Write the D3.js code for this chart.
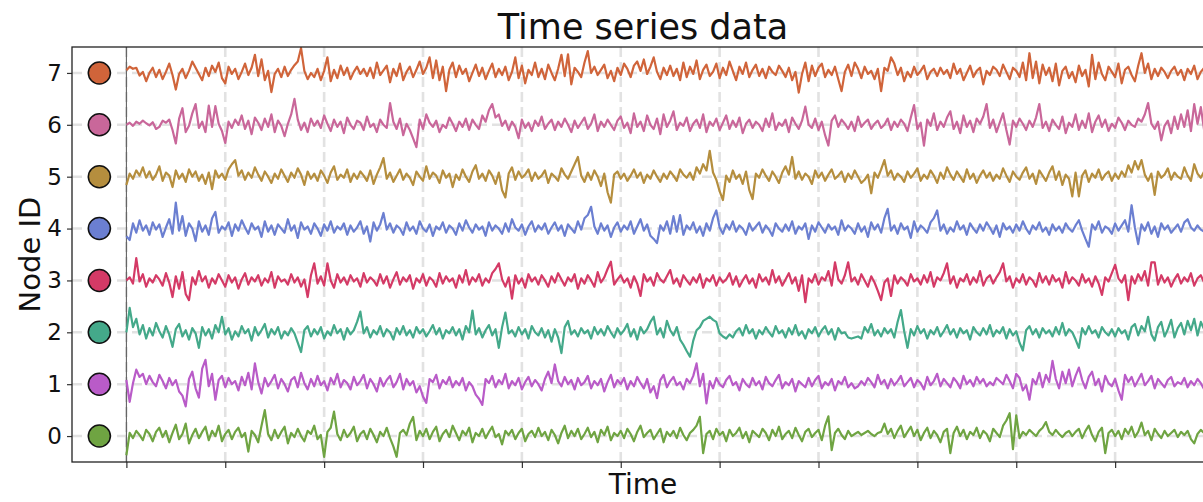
<!DOCTYPE html>
<html lang="en">
<head>
<meta charset="UTF-8">
<title>Time series data</title>
<script src="https://cdn.jsdelivr.net/npm/d3@7"></script>
<style>
    body {
        margin: 0;
        background: #ffffff;
        font-family: "DejaVu Sans", sans-serif;
    }
    svg { display: block; }
</style>
</head>
<body>
<div id="chart"></div>
<script>
// node ids shown on the y axis, bottom to top
const nodeIds = [0, 1, 2, 3, 4, 5, 6, 7];
const nodeColors = ["#6fa442", "#b95bc8", "#44a98a", "#d43a66", "#6b7fd1", "#b58e3e", "#c9679a", "#d0643a"];

// x ticks (no labels in the original)
const xTicks = [0, 30, 60, 90, 120, 150, 180, 210, 240, 270, 300, 330];

// signal for each node
const node0 = [-0.37,0.06,-0.04,0.10,0.02,-0.08,0.12,0.04,-0.10,0.08,
0.16,-0.02,0.10,-0.12,0.06,0.22,-0.06,0.04,0.24,-0.14,
0.02,0.14,-0.04,0.08,0.18,-0.08,0.10,0.00,0.20,-0.10,
0.04,0.12,-0.06,0.08,0.16,-0.02,0.06,-0.30,0.10,0.02,
-0.12,0.20,0.50,0.04,-0.08,0.12,-0.04,0.08,0.18,-0.14,
0.06,-0.02,0.14,0.00,-0.10,0.10,0.04,0.20,-0.06,0.02,
-0.40,0.08,0.16,0.47,0.04,-0.08,0.12,-0.02,0.06,0.18,
-0.10,0.04,0.10,-0.06,0.14,0.02,-0.12,0.08,0.00,0.16,
-0.04,-0.20,-0.40,0.06,0.12,0.02,0.24,0.37,-0.08,0.10,
0.00,0.14,-0.06,0.08,0.18,-0.10,0.04,0.12,-0.02,0.20,
0.06,-0.08,0.10,0.02,0.16,-0.12,0.06,0.00,0.14,-0.04,
0.08,0.18,-0.02,0.04,-0.16,0.10,0.02,0.12,-0.06,0.06,
0.14,-0.10,0.04,0.10,-0.02,0.16,0.00,0.08,-0.08,0.12,
0.02,-0.14,0.06,0.20,-0.04,0.10,0.00,0.14,-0.06,0.04,
0.16,-0.02,0.08,-0.12,0.12,0.02,0.18,-0.08,0.06,0.00,
0.10,-0.04,0.14,0.04,-0.10,0.08,0.20,-0.02,0.06,0.12,
-0.06,0.04,0.14,-0.12,0.08,0.00,0.10,-0.04,0.16,0.02,
-0.08,0.06,0.12,0.20,0.37,-0.33,0.04,0.10,-0.06,0.14,
0.02,0.08,-0.10,0.12,0.00,0.06,0.16,-0.04,0.08,-0.12,
0.10,0.04,-0.02,0.14,0.06,-0.08,0.12,0.00,0.18,-0.06,
0.04,0.10,-0.04,0.16,0.02,-0.10,0.08,0.14,-0.02,0.06,
0.12,-0.08,0.20,0.38,-0.27,0.06,0.14,0.02,-0.06,0.10,
0.00,0.04,0.08,0.02,0.06,0.10,0.04,0.00,0.06,0.08,
0.24,0.04,0.14,-0.04,0.10,0.20,-0.02,0.08,0.18,0.00,
0.12,-0.08,0.06,0.16,-0.04,0.10,0.02,-0.12,0.08,0.14,
-0.33,0.06,0.18,0.00,0.12,-0.06,0.08,0.02,0.16,-0.04,
0.10,0.04,-0.10,0.14,0.06,-0.02,0.20,0.30,0.44,-0.25,
0.40,-0.04,0.08,0.02,0.12,0.06,0.00,0.10,0.16,0.27,
0.08,0.02,0.12,0.04,-0.02,0.06,0.10,0.00,0.08,0.14,
-0.04,0.10,0.20,0.02,-0.10,0.08,0.16,-0.33,0.06,0.12,
0.00,0.10,-0.06,0.14,0.04,0.18,-0.02,0.08,0.26,0.02,
0.10,-0.08,0.14,0.04,-0.04,0.10,0.00,0.06,0.12,-0.02,
0.08,0.02,0.10,-0.06,-0.14,0.04,0.12,0.06,0.00,0.10,
0.04];

const node1 = [1.08,0.66,1.02,1.28,1.14,1.20,1.00,1.16,1.04,0.96,
1.18,1.06,0.92,1.12,0.98,1.08,0.86,0.78,0.57,1.10,
1.24,0.92,0.74,1.30,1.47,0.96,1.20,0.70,1.08,1.16,
0.94,1.12,1.00,1.06,0.88,1.14,0.98,1.22,0.90,1.40,
1.04,0.82,1.12,0.96,1.06,1.18,0.92,1.10,1.00,0.86,
1.08,1.14,0.94,1.22,1.02,0.90,1.10,0.96,1.16,0.98,
1.06,0.88,1.12,1.00,1.20,0.94,1.08,1.02,0.90,1.14,
0.98,1.06,1.18,0.92,1.10,1.00,0.86,1.12,0.96,1.08,
1.16,0.94,1.04,1.20,0.90,1.10,0.98,1.06,0.84,0.96,
0.76,0.64,1.10,1.04,1.18,0.92,1.08,1.00,1.14,0.94,
1.06,0.98,1.12,0.88,1.04,0.96,0.80,0.72,0.60,1.10,
1.02,1.16,0.94,1.08,1.00,1.20,0.92,1.06,0.98,1.12,
0.90,1.04,1.14,0.96,1.08,1.00,0.88,1.10,1.24,1.02,
1.38,1.06,0.96,1.14,1.00,1.08,0.90,1.12,0.98,1.04,
1.16,0.92,1.06,0.98,1.10,0.86,1.04,1.18,0.94,1.08,
1.00,1.12,0.90,1.06,0.96,1.14,1.02,0.92,1.10,0.84,
0.96,0.73,1.08,1.18,0.94,1.06,1.14,0.98,1.04,0.90,
1.10,1.02,1.16,1.40,0.96,1.20,0.63,1.06,0.92,1.12,
1.00,0.94,1.08,1.16,0.98,1.04,0.88,1.10,1.00,0.94,
1.12,0.98,1.06,0.90,1.14,1.02,0.96,1.08,1.18,0.92,
1.04,0.98,1.10,0.86,1.06,1.00,0.94,1.12,0.96,1.08,
1.16,0.92,1.04,0.98,1.10,0.88,1.06,1.00,1.14,0.94,
1.02,0.92,0.96,1.06,0.98,1.12,1.04,0.94,1.18,1.00,
1.08,0.92,1.10,0.98,1.06,1.16,0.96,1.04,1.12,0.94,
1.08,1.02,0.90,1.14,0.98,1.06,1.20,0.96,1.10,1.02,
0.94,1.12,1.04,0.92,1.16,1.00,1.08,0.96,1.14,1.02,
1.10,0.96,1.04,0.98,1.12,1.06,1.00,1.18,1.06,0.92,
1.20,1.12,0.88,0.98,0.70,1.10,1.00,1.22,0.94,1.18,
1.04,1.45,1.10,0.92,1.24,1.02,1.28,0.96,1.16,1.32,
1.08,0.92,1.14,1.24,0.98,1.10,0.86,1.16,1.02,0.96,
1.10,0.88,0.70,1.18,1.04,1.14,0.96,1.08,1.20,0.98,
1.06,1.16,0.92,1.10,1.02,0.94,1.08,1.14,0.96,1.04,
1.00,1.12,0.94,1.06,0.98,1.10,1.02,0.90,1.08,1.00,
1.06];

const node2 = [2.00,2.47,2.10,2.26,1.96,2.14,1.88,2.08,1.94,2.18,
2.02,1.90,2.12,1.96,1.72,2.06,2.16,1.92,2.04,1.86,
2.08,1.98,1.70,2.10,1.94,2.06,1.88,2.14,2.00,2.30,
1.96,2.08,1.86,2.02,1.92,2.12,1.98,2.06,1.84,2.10,
1.94,2.04,2.16,1.90,2.06,1.96,2.10,1.88,2.02,1.94,
2.08,1.98,1.80,1.62,2.04,2.12,1.92,2.06,1.96,2.10,
1.88,2.02,1.94,2.14,1.98,2.06,1.86,2.08,1.96,2.04,
2.20,2.40,1.98,2.10,1.90,2.04,1.96,2.12,1.92,2.06,
2.00,1.86,2.08,1.96,2.12,1.94,2.04,1.90,2.10,1.98,
2.06,1.92,2.02,2.14,1.96,2.08,1.88,2.04,1.98,2.10,
1.94,2.06,1.86,2.12,2.00,2.42,1.96,2.08,1.90,2.04,
2.14,1.94,2.06,1.70,2.10,2.38,1.98,2.04,1.92,2.10,
1.96,2.06,1.88,2.12,2.00,1.94,2.08,1.90,2.04,1.82,
2.06,1.90,1.60,2.10,2.22,1.96,2.04,1.92,2.08,1.98,
2.04,1.88,2.10,1.96,2.06,1.94,2.12,2.00,1.90,2.08,
1.96,2.04,2.16,1.92,2.06,1.86,2.10,1.98,2.06,2.20,
2.30,1.96,2.08,1.90,2.22,2.04,1.94,2.10,1.86,1.76,
1.64,1.53,1.84,2.04,2.10,2.22,2.26,2.30,2.24,2.20,
1.98,1.92,1.88,1.96,1.90,2.02,2.08,1.94,2.14,1.98,
2.06,1.88,2.04,1.96,2.10,2.00,1.92,2.12,1.98,2.04,
1.90,2.08,1.96,2.14,1.94,2.02,1.88,2.06,1.98,2.10,
1.92,2.04,2.12,1.96,2.06,1.86,2.08,1.98,2.00,1.90,
1.88,1.90,1.92,1.88,2.10,2.00,2.16,1.94,2.04,1.92,
2.08,1.98,2.06,1.90,2.20,2.43,2.02,1.70,2.06,1.94,
2.12,1.98,2.06,1.88,2.04,1.96,2.10,1.92,2.02,2.14,
1.96,2.06,1.90,2.08,1.98,2.04,1.86,2.10,2.00,1.94,
2.08,1.96,2.14,1.92,2.04,1.98,2.10,1.88,2.06,1.94,
2.02,1.80,1.65,2.04,2.12,1.96,2.06,1.90,2.08,1.98,
2.04,1.92,2.10,1.96,2.18,1.94,2.06,2.00,1.86,1.70,
2.08,1.96,2.12,1.98,2.04,1.90,2.10,2.00,1.94,2.06,
1.92,2.08,1.98,2.04,1.86,2.10,2.16,1.94,2.12,2.02,
2.30,1.96,1.84,2.10,2.20,1.92,2.06,2.24,1.90,2.08,
2.18,1.96,2.22,2.04,2.26,1.94,2.20,2.06,2.24,1.98,
2.16];

const node3 = [3.00,3.06,2.94,3.43,2.98,3.12,2.88,3.04,2.96,3.10,
3.02,2.90,3.14,2.96,2.68,3.08,2.84,3.16,2.74,2.62,
3.06,2.92,3.18,2.98,3.08,2.86,3.04,2.94,3.12,3.00,
2.88,3.10,2.96,3.06,2.84,3.02,3.14,2.92,3.06,2.98,
3.10,2.90,3.04,2.96,3.16,2.86,3.08,2.98,3.02,2.92,
3.12,2.96,3.06,2.88,3.02,2.68,3.10,3.33,2.94,3.08,
2.90,3.33,3.00,2.86,3.12,2.96,3.06,2.92,3.10,2.98,
3.04,2.88,3.14,2.96,3.06,3.00,2.90,3.12,2.94,3.08,
2.86,3.02,3.16,2.92,3.06,2.98,3.10,2.84,3.04,2.96,
3.12,2.90,3.06,3.00,2.88,3.14,2.94,3.08,2.98,3.04,
2.86,3.10,2.96,3.20,2.92,3.06,2.98,3.12,2.90,3.04,
2.96,3.14,3.22,3.33,3.02,2.88,3.06,2.65,3.10,2.94,
3.04,2.86,3.12,2.98,3.06,2.92,3.10,3.00,2.88,3.08,
2.96,3.14,3.02,2.90,3.06,2.98,3.12,2.84,3.04,2.94,
3.10,3.00,2.88,3.16,2.96,3.06,3.22,3.36,2.92,3.02,
3.10,2.96,3.04,2.86,3.08,2.94,2.70,3.12,2.98,3.06,
2.90,3.14,3.02,2.96,3.08,3.20,2.94,3.04,2.88,3.10,
3.00,2.92,3.06,2.96,3.12,2.86,3.04,2.98,3.10,2.90,
3.06,2.96,3.02,3.14,2.92,3.08,2.88,3.00,3.10,2.94,
3.04,2.86,3.12,2.98,3.06,2.92,3.20,2.96,3.08,2.90,
3.02,3.14,2.94,3.06,2.80,3.10,2.58,3.04,2.96,3.12,
2.92,3.06,3.00,3.18,2.90,3.35,3.02,2.94,3.10,3.35,
2.98,3.06,2.92,3.12,3.00,2.88,3.08,2.96,2.80,2.62,
2.96,3.04,2.70,3.10,2.94,3.06,3.00,2.90,3.12,2.98,
3.04,2.92,3.10,2.96,3.16,2.88,3.06,3.00,3.14,3.33,
2.94,3.08,2.86,3.04,2.98,3.12,2.92,3.06,2.96,3.18,
2.90,3.04,3.10,2.94,3.06,3.16,3.33,2.98,3.08,2.86,
3.04,2.96,3.12,2.92,3.06,3.00,2.88,3.14,2.96,3.08,
2.92,3.10,2.98,3.04,2.86,3.16,2.94,3.06,3.00,2.90,
3.12,2.96,3.04,2.88,3.08,2.94,2.72,3.06,2.98,3.14,
3.30,3.04,2.96,3.10,2.62,3.08,2.94,3.12,3.00,3.18,
2.90,3.35,3.35,2.92,3.10,2.96,3.06,2.88,3.02,3.12,
2.94,3.06,2.98,3.14,2.90,3.04,3.10,2.96,3.08,3.00,
2.94];

const node4 = [3.85,3.78,4.10,3.92,4.16,3.96,4.06,3.88,4.12,3.98,
4.08,3.84,4.02,4.18,3.90,4.50,3.96,4.24,3.86,4.10,
4.00,3.76,4.14,3.94,4.06,3.88,4.20,4.32,3.92,4.04,
3.98,4.12,3.86,4.08,3.96,4.16,4.02,3.90,4.10,3.98,
4.04,3.84,4.14,3.94,4.06,3.88,4.08,4.00,3.92,4.18,
3.96,4.06,3.82,4.12,3.98,4.04,3.90,4.10,4.00,3.86,
4.08,3.96,4.14,3.92,4.04,3.98,4.10,3.88,4.06,3.94,
4.02,4.14,3.90,4.04,3.75,4.12,3.96,4.08,4.30,3.98,
4.10,3.92,4.06,4.00,3.88,4.12,3.96,4.04,3.90,4.14,
4.00,3.94,4.08,3.86,4.04,3.98,4.12,3.92,4.06,4.00,
3.88,4.10,3.96,4.16,4.02,3.92,4.08,3.98,4.04,3.86,
4.12,3.96,4.06,4.00,3.90,4.10,3.94,4.18,4.02,3.96,
4.08,3.88,4.04,4.14,3.94,4.06,3.98,4.10,3.90,4.02,
4.12,3.96,4.06,3.86,4.08,4.00,3.92,4.14,3.98,4.20,
4.26,4.42,4.04,3.90,4.10,3.96,4.06,3.84,4.02,4.12,
3.94,4.06,3.98,4.14,3.90,4.04,4.18,3.96,4.08,3.86,
3.80,3.72,4.06,3.96,4.14,3.90,4.24,3.94,4.26,3.88,
4.06,3.98,4.12,3.92,4.04,3.86,4.10,3.96,4.20,4.35,
4.02,3.90,4.08,3.98,4.14,3.94,4.06,4.00,3.88,4.10,
3.96,4.04,4.12,3.92,4.06,3.98,3.86,4.10,4.00,3.94,
4.08,3.96,4.14,3.90,4.04,3.98,4.10,3.80,4.06,3.94,
4.12,4.02,3.92,4.08,3.98,4.04,3.88,4.16,3.96,4.06,
4.00,3.90,4.10,3.94,4.04,3.84,4.12,3.98,4.08,3.92,
4.20,4.38,3.96,4.06,3.90,4.10,3.98,4.04,3.82,4.14,
3.94,4.06,4.00,3.92,4.12,4.20,4.35,3.96,4.08,3.90,
4.02,3.94,4.14,3.98,4.06,3.88,4.10,4.00,3.92,4.08,
3.96,4.12,4.02,3.90,4.06,3.84,4.10,3.98,4.04,3.92,
4.08,3.96,4.14,4.00,3.90,4.06,3.98,4.12,3.94,4.02,
3.88,4.08,3.96,4.04,3.92,4.10,4.00,3.94,4.06,4.16,
3.96,3.80,3.65,4.08,3.98,4.14,3.92,4.04,4.00,3.90,
4.10,3.96,4.06,4.16,3.94,4.45,4.02,3.70,4.08,3.96,
4.12,3.90,4.04,3.84,4.10,3.98,4.06,3.92,4.00,4.08,
3.94,4.12,4.18,4.02,3.96,4.06,3.98,3.94,4.04,4.00,
3.96];

const node5 = [4.84,5.06,4.96,5.12,5.02,5.18,4.98,5.10,4.94,5.04,
5.20,4.92,5.08,5.02,4.80,5.12,4.96,5.06,4.90,5.14,
5.00,5.10,4.92,5.04,4.86,5.08,4.76,5.12,4.98,5.06,
4.94,5.14,5.24,5.32,5.02,5.12,4.94,5.08,4.98,5.18,
5.04,4.92,5.10,5.00,4.88,5.06,4.96,5.14,5.02,4.90,
5.08,4.98,5.16,5.04,4.84,5.10,4.96,5.06,4.92,5.12,
5.02,4.88,5.08,5.20,4.94,5.04,4.98,5.14,4.90,5.06,
4.96,5.10,5.02,4.92,5.12,4.86,5.04,5.18,5.36,4.96,
5.08,4.90,5.02,5.14,4.94,5.06,4.98,4.84,5.10,5.00,
4.92,5.20,4.96,5.08,5.02,4.88,5.12,4.98,5.06,4.80,
5.04,4.94,5.14,5.00,4.90,5.10,5.22,4.96,5.06,4.92,
5.12,5.02,4.86,5.08,4.74,4.60,5.06,5.18,4.94,5.10,
4.98,5.04,5.14,4.92,5.08,4.96,5.02,5.12,4.88,5.06,
5.00,4.92,5.16,5.04,4.96,5.10,5.24,5.38,5.02,4.90,
5.08,4.94,5.12,5.00,4.82,5.06,4.70,4.50,5.04,5.10,
4.96,5.06,4.92,5.02,5.14,4.98,5.08,4.88,5.04,4.96,
5.12,5.00,4.90,5.06,4.96,5.10,5.02,4.92,5.14,5.04,
4.98,5.08,4.94,5.18,5.06,5.24,5.12,5.50,5.08,4.94,
4.72,4.55,5.02,4.90,5.12,4.96,5.04,4.86,5.10,4.74,
4.57,5.06,4.98,5.14,5.02,4.92,5.10,5.00,4.88,5.08,
5.20,5.04,5.38,4.96,5.10,4.94,5.06,5.00,4.86,5.12,
4.98,5.08,4.92,5.04,5.14,4.96,5.02,5.10,4.90,5.06,
4.96,5.12,5.00,4.88,4.94,5.04,4.68,5.08,4.98,5.14,
5.32,5.02,5.12,4.94,5.06,5.00,4.90,5.10,4.98,5.06,
5.16,4.92,5.04,4.96,5.12,5.02,4.88,5.08,4.96,5.18,
5.04,4.94,5.10,5.00,4.90,5.14,4.96,5.06,4.88,5.02,
5.12,4.98,5.08,4.92,5.04,4.96,5.16,5.02,4.90,5.10,
5.00,4.94,5.08,5.18,4.96,5.06,4.86,5.12,5.02,4.92,
5.08,5.20,4.94,5.10,4.84,5.04,4.96,4.62,5.08,4.62,
5.02,5.12,4.90,5.06,4.98,5.14,4.94,5.04,5.10,4.92,
5.06,4.96,5.10,5.00,5.22,5.08,5.30,5.14,5.32,5.04,
4.92,5.06,4.65,5.10,4.98,5.04,5.16,4.94,5.08,5.00,
4.96,5.18,5.02,4.92,5.24,5.06,4.98,5.10,5.02,4.94,
5.06];

const node6 = [6.00,6.04,5.98,6.06,6.02,6.08,6.03,5.99,6.05,5.92,
5.96,6.08,6.04,6.10,5.90,5.64,6.12,6.32,5.86,5.98,
6.22,6.40,5.94,6.06,5.86,6.37,5.96,6.36,6.02,5.88,
5.65,6.06,5.94,6.10,6.00,6.18,5.92,6.08,5.82,6.14,
6.04,5.90,6.12,5.96,6.20,5.86,6.08,5.98,5.78,6.02,
6.20,6.50,6.10,5.90,6.04,5.86,6.12,5.98,6.08,5.94,
6.18,6.02,5.88,6.10,5.96,6.06,5.84,6.14,6.00,5.92,
6.08,6.04,5.90,6.16,5.96,6.02,5.86,6.10,6.00,5.94,
6.42,6.06,5.92,6.12,5.80,6.02,5.90,5.74,5.57,6.10,
5.92,6.20,6.04,5.96,6.08,5.86,6.00,5.94,6.14,6.02,
5.88,6.06,5.96,6.12,5.90,6.10,6.00,5.92,6.18,6.06,
6.28,6.40,6.14,6.20,5.98,6.08,5.90,6.06,5.96,5.74,
6.10,5.94,6.04,5.88,6.08,5.98,6.16,5.92,6.02,6.10,
5.90,6.06,5.96,6.12,6.00,5.86,6.08,5.94,6.04,6.14,
5.92,6.02,6.20,5.88,6.06,5.96,6.10,6.00,5.90,6.08,
6.16,5.94,6.04,5.84,6.22,5.96,6.06,5.88,6.18,6.00,
5.92,6.12,5.82,6.20,5.96,6.08,6.26,5.90,6.04,5.98,
6.14,5.88,6.02,6.10,5.94,6.20,5.86,6.06,5.98,6.12,
5.90,6.04,6.18,5.92,6.08,5.96,6.14,5.84,6.02,6.10,
5.94,6.06,6.00,5.88,6.12,5.96,6.22,5.90,6.04,5.98,
6.10,5.86,6.14,6.02,5.92,6.08,6.35,6.00,5.94,6.12,
5.90,6.06,5.80,5.60,6.08,6.18,5.96,6.10,6.02,5.92,
6.06,5.88,6.16,5.96,6.04,6.10,5.92,6.02,6.08,5.94,
6.00,6.12,5.90,6.06,5.96,6.10,6.02,5.88,6.14,6.38,
5.92,6.04,5.60,6.10,5.98,6.22,5.90,6.06,5.96,6.14,
6.26,5.92,6.06,5.84,6.18,5.96,6.08,5.86,6.12,6.02,
6.16,6.40,5.94,6.10,5.86,6.04,6.22,5.90,5.62,6.08,
5.96,6.12,6.02,5.90,6.08,5.96,6.14,6.40,5.94,6.06,
5.88,6.10,6.00,5.92,6.16,5.84,6.04,5.96,6.20,5.90,
6.08,5.94,6.22,5.86,6.06,6.18,5.96,6.10,5.88,6.02,
5.94,6.14,6.04,5.90,6.08,6.00,5.96,6.12,6.06,6.20,
6.42,6.02,5.92,6.06,5.70,5.98,6.08,5.84,6.16,5.92,
6.20,5.96,6.28,5.88,6.40,6.02,6.34,5.90,6.38,6.04,
6.22];

const node7 = [7.05,7.12,7.08,7.10,6.95,7.02,6.84,7.00,7.10,6.92,
7.06,6.88,7.02,7.18,6.96,6.68,6.98,7.08,6.90,7.04,
7.22,7.10,6.98,6.86,7.10,6.94,7.14,7.02,7.20,6.90,
6.80,7.12,6.98,7.08,6.88,7.02,7.18,6.96,7.10,7.35,
6.94,7.26,6.86,7.04,6.63,6.98,7.08,6.92,7.12,6.94,
7.06,7.15,7.22,7.48,7.04,6.88,7.00,6.92,7.08,6.86,
7.04,7.30,6.84,7.06,6.90,7.14,6.96,7.10,6.88,7.02,
7.12,6.98,7.08,6.94,7.10,6.90,7.20,6.96,7.05,7.14,
6.82,7.08,6.94,7.18,6.86,7.02,7.12,6.92,7.06,7.22,
6.98,7.10,7.30,6.90,7.24,6.86,7.12,6.65,7.06,7.20,
6.92,7.14,6.98,7.08,6.84,7.00,7.16,6.94,7.10,6.88,
7.04,7.18,6.92,7.08,6.96,7.12,6.86,7.02,7.30,6.90,
7.14,6.80,7.06,6.96,7.20,6.92,7.08,6.88,7.16,7.00,
6.86,7.08,7.35,6.94,7.36,6.78,7.10,7.02,6.92,7.20,
7.42,7.00,7.12,6.96,7.06,7.16,6.90,7.04,6.84,7.10,
6.96,7.18,7.08,6.92,7.14,7.22,7.04,7.26,6.98,7.12,
7.30,7.02,6.88,7.10,6.96,7.14,6.94,7.08,6.86,7.20,
6.92,7.12,6.98,7.24,6.88,7.06,7.16,6.94,7.02,7.18,
6.90,7.10,6.96,7.22,7.04,6.86,7.12,6.98,7.20,6.92,
7.06,7.16,6.94,7.08,6.90,7.12,7.02,6.96,7.14,7.04,
6.92,7.10,6.86,7.02,6.62,6.98,7.20,6.84,7.14,6.94,
7.10,7.18,6.92,7.06,6.96,7.12,6.88,6.65,7.02,7.16,
6.94,7.20,7.08,6.90,7.12,6.98,7.04,6.88,7.08,6.65,
7.10,7.04,7.30,7.18,6.96,7.10,6.84,7.02,6.92,7.12,
6.96,7.04,7.14,6.88,7.02,7.08,6.94,7.10,6.98,7.06,
6.90,7.18,6.98,7.08,6.86,7.00,7.14,6.92,7.04,7.10,
6.78,7.04,6.96,7.12,7.06,6.94,7.16,7.02,6.88,7.10,
7.04,6.92,7.20,6.86,7.38,6.90,7.22,6.80,7.16,6.96,
7.10,6.84,7.18,6.76,7.04,7.12,6.90,7.02,6.82,7.14,
6.94,7.06,6.74,7.35,6.88,7.20,6.98,6.86,7.12,7.02,
6.92,7.18,6.80,7.06,7.12,6.96,6.84,7.14,7.38,7.00,
7.18,6.88,7.08,6.94,7.10,7.02,6.90,7.04,7.12,6.96,
7.06,6.86,7.08,6.98,7.14,6.88,7.02,7.10,6.84,7.06,
7.00];

const series = [node0, node1, node2, node3, node4, node5, node6, node7];

// where the colour dots sit, in time units (left of t = 0)
const markerTime = -8.2;

const width = 1203, height = 502;
const plot = { left: 72, right: 1214, top: 47, bottom: 462 };

const svg = d3.select('#chart')
    .append('svg')
    .attr('width', width)
    .attr('height', height)
    .style('font-family', '"DejaVu Sans", sans-serif');

const x = d3.scaleLinear()
    .domain([-16.5, 330])
    .range([plot.left, plot.right]);

const y = d3.scaleLinear()
    .domain([-0.5, 7.5])
    .range([plot.bottom, plot.top]);

svg.append('clipPath').attr('id', 'plot-clip')
    .append('rect')
    .attr('x', plot.left).attr('y', plot.top)
    .attr('width', plot.right - plot.left).attr('height', plot.bottom - plot.top);

// dashed grid
const grid = svg.append('g').attr('clip-path', 'url(#plot-clip)');
grid.selectAll('.vgrid')
    .data(xTicks)
    .enter().append('line')
    .attr('x1', d => x(d)).attr('x2', d => x(d))
    .attr('y1', plot.top).attr('y2', plot.bottom)
    .attr('stroke', '#e2e2e2')
    .attr('stroke-width', 2.6)
    .attr('stroke-dasharray', '10,5');
grid.selectAll('.hgrid')
    .data(nodeIds)
    .enter().append('line')
    .attr('x1', plot.left).attr('x2', plot.right)
    .attr('y1', d => y(d)).attr('y2', d => y(d))
    .attr('stroke', '#e2e2e2')
    .attr('stroke-width', 2.6)
    .attr('stroke-dasharray', '10,5');

// line at t = 0
svg.append('line')
    .attr('x1', x(0)).attr('x2', x(0))
    .attr('y1', plot.top).attr('y2', plot.bottom)
    .attr('stroke', '#555')
    .attr('stroke-width', 1);

// series
const line = d3.line()
    .x((d, i) => x(i))
    .y(d => y(d));

svg.append('g')
    .attr('clip-path', 'url(#plot-clip)')
    .selectAll('path')
    .data(series)
    .enter().append('path')
    .attr('d', d => line(d))
    .attr('fill', 'none')
    .attr('stroke', (d, i) => nodeColors[i])
    .attr('stroke-width', 2.2)
    .attr('stroke-linejoin', 'round');

// colour dots
svg.selectAll('.dot')
    .data(nodeIds)
    .enter().append('circle')
    .attr('cx', x(markerTime))
    .attr('cy', d => y(d))
    .attr('r', 11)
    .attr('fill', d => nodeColors[d])
    .attr('stroke', '#111')
    .attr('stroke-width', 1.5);

// axes
const yAxis = d3.axisLeft(y)
    .tickValues(nodeIds)
    .tickSize(5)
    .tickPadding(5)
    .tickFormat(d3.format('d'));
const yg = svg.append('g')
    .attr('transform', `translate(${plot.left},0)`)
    .call(yAxis);
yg.select('.domain').remove();
yg.selectAll('.tick line').attr('stroke', '#333').attr('stroke-width', 1.2);
yg.selectAll('.tick text')
    .attr('font-size', 23)
    .attr('font-family', '"DejaVu Sans", sans-serif')
    .attr('fill', '#111');

const xAxis = d3.axisBottom(x)
    .tickValues(xTicks)
    .tickSize(6)
    .tickFormat('');
const xg = svg.append('g')
    .attr('transform', `translate(0,${plot.bottom})`)
    .call(xAxis);
xg.select('.domain').remove();
xg.selectAll('.tick line').attr('stroke', '#333').attr('stroke-width', 1.2);

// spines
svg.append('rect')
    .attr('x', plot.left).attr('y', plot.top)
    .attr('width', plot.right - plot.left).attr('height', plot.bottom - plot.top)
    .attr('fill', 'none')
    .attr('stroke', '#222')
    .attr('stroke-width', 1.3);

// titles
const midX = (plot.left + plot.right) / 2;
svg.append('text')
    .attr('x', midX).attr('y', 39)
    .attr('text-anchor', 'middle')
    .attr('font-size', 35)
    .attr('fill', '#111')
    .text('Time series data');

svg.append('text')
    .attr('x', midX).attr('y', 494)
    .attr('text-anchor', 'middle')
    .attr('font-size', 28)
    .attr('fill', '#111')
    .text('Time');

svg.append('text')
    .attr('transform', `translate(40,${(plot.top + plot.bottom) / 2}) rotate(-90)`)
    .attr('text-anchor', 'middle')
    .attr('font-size', 29)
    .attr('fill', '#111')
    .text('Node ID');
</script>
</body>
</html>
